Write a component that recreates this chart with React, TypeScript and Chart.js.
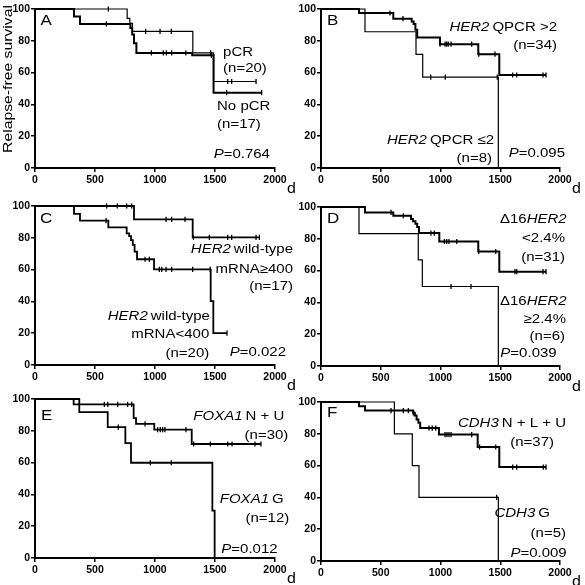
import React, { useEffect, useRef } from 'react';
import { Chart, registerables } from 'chart.js';

Chart.register(...registerables);

// ---------- axes ----------
const X_TICKS = [0, 500, 1000, 1500, 2000];
const Y_TICKS = [0, 20, 40, 60, 80, 100];
const X_UNIT = 'd';
const Y_TITLE = 'Relapse-free survival';

// ---------- Panel A ----------
const A_PCR_T = [0, 768, 790, 812, 1315, 1488, 1842];
const A_PCR_S = [100, 94.1, 91.0, 85.9, 72.4, 54.4, 54.4];
const A_PCR_CENS = [611, 922, 1042, 1136, 1464, 1606, 1639, 1842];
const A_NOPCR_T = [0, 325, 375, 795, 810, 825, 845, 1310, 1488, 1889];
const A_NOPCR_S = [100, 95.3, 90.6, 88.0, 84.0, 78.5, 72.4, 70.9, 47.4, 47.4];
const A_NOPCR_CENS = [595, 970, 1069, 1095, 1139, 1257, 1470, 1597, 1889];

// ---------- Panel B ----------
const B_HI_T = [0, 318, 605, 759, 775, 790, 805, 996, 1316, 1492, 1883];
const B_HI_S = [100, 97.5, 93.9, 92.2, 90.5, 86.9, 82.1, 77.9, 71.6, 58.5, 58.5];
const B_HI_CENS = [577, 686, 996, 1038, 1052, 1065, 1088, 1261, 1320, 1456, 1604, 1638, 1858, 1883];
const B_LO_T = [0, 368, 795, 851, 1484];
const B_LO_S = [100, 85.7, 71.4, 57.1, 0];
const B_LO_CENS = [918, 1040, 1475];

// ---------- Panel C ----------
const C_HI_T = [0, 825, 1314, 1870];
const C_HI_S = [100, 91.6, 80.3, 80.3];
const C_HI_CENS = [597, 686, 764, 806, 1092, 1139, 1250, 1320, 1453, 1606, 1639, 1842, 1870];
const C_LO_T = [0, 325, 375, 611, 764, 785, 800, 815, 830, 850, 992, 1464, 1486, 1600];
const C_LO_S = [100, 95.0, 90.8, 86.6, 82.8, 81.0, 78.6, 75.5, 71.3, 66.5, 60.2, 40.2, 20.1, 20.1];
const C_LO_CENS = [592, 917, 953, 1036, 1056, 1092, 1139, 1314, 1460, 1600];

// ---------- Panel D ----------
const D_LO_T = [0, 368, 605, 753, 770, 790, 805, 820, 990, 1316, 1492, 1883];
const D_LO_S = [100, 96.6, 94.5, 92.5, 91.0, 89.5, 87.4, 83.6, 78.3, 72.0, 59.3, 59.3];
const D_LO_CENS = [586, 689, 920, 948, 1032, 1052, 1071, 1136, 1320, 1462, 1623, 1638, 1858, 1883];
const D_HI_T = [0, 318, 814, 848, 1484];
const D_HI_S = [100, 83.3, 66.7, 50.0, 0];
const D_HI_CENS = [1088, 1255];

// ---------- Panel E ----------
const E_NU_T = [0, 322, 822, 842, 994, 1306, 1883];
const E_NU_S = [100, 96.6, 88.0, 84.3, 80.7, 71.7, 71.7];
const E_NU_CENS = [578, 606, 689, 772, 806, 917, 1022, 1044, 1064, 1083, 1258, 1322, 1461, 1606, 1642, 1833, 1883];
const E_G_T = [0, 369, 606, 753, 800, 1478, 1497];
const E_G_S = [100, 91.7, 82.3, 72.2, 59.9, 29.8, 0];
const E_G_CENS = [694, 961, 1136];

// ---------- Panel F ----------
const F_NLU_T = [0, 318, 368, 772, 785, 800, 815, 830, 987, 1311, 1492, 1883];
const F_NLU_S = [100, 97.3, 94.6, 93.2, 91.5, 89.0, 87.0, 83.6, 79.5, 71.7, 59.1, 59.1];
const F_NLU_CENS = [586, 689, 731, 772, 904, 931, 960, 1038, 1054, 1071, 1088, 1261, 1327, 1462, 1604, 1638, 1860, 1883];
const F_G_T = [0, 614, 764, 820, 1484];
const F_G_S = [100, 80, 60, 40, 0];
const F_G_CENS = [1470];

type Seg = { t: string; i?: boolean; g?: number };
type Note = { segs: Seg[]; x: number; y: number; align: 'left' | 'right'; size?: number };
type Curve = { t: number[]; s: number[]; c: number[]; w: number };
type PanelDef = { id: string; left: number; top: number; width: number; curves: Curve[]; notes: Note[]; yTitle?: boolean };

const GAP = 3;

const NOTES_A: Note[] = [
  { segs: [{ t: 'A' }], x: 45, y: 90, align: 'left', size: 17 },
  { segs: [{ t: 'pCR' }], x: 1567, y: 70.5, align: 'left' },
  { segs: [{ t: '(n=20)' }], x: 1567, y: 60.4, align: 'left' },
  { segs: [{ t: 'No pCR' }], x: 1517, y: 36.4, align: 'left' },
  { segs: [{ t: '(n=17)' }], x: 1517, y: 25.1, align: 'left' },
  { segs: [{ t: 'P', i: true }, { t: '=0.764' }], x: 1958, y: 6.1, align: 'right' },
];
const NOTES_B: Note[] = [
  { segs: [{ t: 'B' }], x: 50, y: 90, align: 'left', size: 17 },
  { segs: [{ t: 'HER2', i: true }, { t: 'QPCR >2', g: GAP }], x: 1975, y: 86.3, align: 'right' },
  { segs: [{ t: '(n=34)' }], x: 1975, y: 74.9, align: 'right' },
  { segs: [{ t: 'HER2', i: true }, { t: 'QPCR ≤2', g: GAP }], x: 1448, y: 15, align: 'right' },
  { segs: [{ t: '(n=8)' }], x: 1431, y: 3.8, align: 'right' },
  { segs: [{ t: 'P', i: true }, { t: '=0.095' }], x: 2042, y: 6.9, align: 'right' },
];
const NOTES_C: Note[] = [
  { segs: [{ t: 'C' }], x: 42, y: 89.3, align: 'left', size: 17 },
  { segs: [{ t: 'HER2', i: true }, { t: 'wild-type', g: GAP }], x: 2150, y: 70.3, align: 'right' },
  { segs: [{ t: 'mRNA≥400' }], x: 2150, y: 58, align: 'right' },
  { segs: [{ t: '(n=17)' }], x: 2150, y: 47.2, align: 'right' },
  { segs: [{ t: 'HER2', i: true }, { t: 'wild-type', g: GAP }], x: 1458, y: 28.3, align: 'right' },
  { segs: [{ t: 'mRNA<400' }], x: 1452, y: 16.8, align: 'right' },
  { segs: [{ t: '(n=20)' }], x: 1452, y: 5.2, align: 'right' },
  { segs: [{ t: 'P', i: true }, { t: '=0.022' }], x: 2092, y: 5.7, align: 'right' },
];
const NOTES_D: Note[] = [
  { segs: [{ t: 'D' }], x: 50, y: 90, align: 'left', size: 17 },
  { segs: [{ t: 'Δ16' }, { t: 'HER2', i: true }], x: 2056, y: 89.9, align: 'right' },
  { segs: [{ t: '<2.4%' }], x: 2042, y: 77.7, align: 'right' },
  { segs: [{ t: '(n=31)' }], x: 2042, y: 66.1, align: 'right' },
  { segs: [{ t: 'Δ16' }, { t: 'HER2', i: true }], x: 2056, y: 38.3, align: 'right' },
  { segs: [{ t: '≥2.4%' }], x: 2050, y: 26.8, align: 'right' },
  { segs: [{ t: '(n=6)' }], x: 2042, y: 16.2, align: 'right' },
  { segs: [{ t: 'P', i: true }, { t: '=0.039' }], x: 1972, y: 5.7, align: 'right' },
];
const NOTES_E: Note[] = [
  { segs: [{ t: 'E' }], x: 50, y: 87, align: 'left', size: 17 },
  { segs: [{ t: 'FOXA1', i: true }, { t: 'N + U', g: GAP }], x: 2077, y: 87, align: 'right' },
  { segs: [{ t: '(n=30)' }], x: 2111, y: 75, align: 'right' },
  { segs: [{ t: 'FOXA1', i: true }, { t: 'G', g: GAP }], x: 2072, y: 34.6, align: 'right' },
  { segs: [{ t: '(n=12)' }], x: 2119, y: 22.6, align: 'right' },
  { segs: [{ t: 'P', i: true }, { t: '=0.012' }], x: 2022, y: 3.1, align: 'right' },
];
const NOTES_F: Note[] = [
  { segs: [{ t: 'F' }], x: 50, y: 90.6, align: 'left', size: 17 },
  { segs: [{ t: 'CDH3', i: true }, { t: 'N + L + U', g: GAP }], x: 2050, y: 84.3, align: 'right' },
  { segs: [{ t: '(n=37)' }], x: 1950, y: 72.3, align: 'right' },
  { segs: [{ t: 'CDH3', i: true }, { t: 'G', g: GAP }], x: 1916, y: 27.7, align: 'right' },
  { segs: [{ t: '(n=5)' }], x: 2050, y: 15.1, align: 'right' },
  { segs: [{ t: 'P', i: true }, { t: '=0.009' }], x: 2056, y: 2.5, align: 'right' },
];

const PANELS: PanelDef[] = [
  { id: 'A', left: 0, top: 0, width: 300, yTitle: true, notes: NOTES_A,
    curves: [{ t: A_PCR_T, s: A_PCR_S, c: A_PCR_CENS, w: 1.2 }, { t: A_NOPCR_T, s: A_NOPCR_S, c: A_NOPCR_CENS, w: 2 }] },
  { id: 'B', left: 286, top: 0, width: 299, notes: NOTES_B,
    curves: [{ t: B_LO_T, s: B_LO_S, c: B_LO_CENS, w: 1.2 }, { t: B_HI_T, s: B_HI_S, c: B_HI_CENS, w: 2 }] },
  { id: 'C', left: 0, top: 197, width: 300, notes: NOTES_C,
    curves: [{ t: C_HI_T, s: C_HI_S, c: C_HI_CENS, w: 1.8 }, { t: C_LO_T, s: C_LO_S, c: C_LO_CENS, w: 1.8 }] },
  { id: 'D', left: 286, top: 198, width: 299, notes: NOTES_D,
    curves: [{ t: D_HI_T, s: D_HI_S, c: D_HI_CENS, w: 1.2 }, { t: D_LO_T, s: D_LO_S, c: D_LO_CENS, w: 2 }] },
  { id: 'E', left: 0, top: 390, width: 300, notes: NOTES_E,
    curves: [{ t: E_NU_T, s: E_NU_S, c: E_NU_CENS, w: 1.8 }, { t: E_G_T, s: E_G_S, c: E_G_CENS, w: 1.8 }] },
  { id: 'F', left: 286, top: 393, width: 299, notes: NOTES_F,
    curves: [{ t: F_G_T, s: F_G_S, c: F_G_CENS, w: 1.2 }, { t: F_NLU_T, s: F_NLU_S, c: F_NLU_CENS, w: 2 }] },
];

const CANVAS_H = 195;
const FONT = '"Liberation Sans", Arial, sans-serif';
const SY = 0.87;

function survAt(t: number[], s: number[], x: number): number {
  let v = s[0];
  for (let i = 0; i < t.length; i++) if (t[i] <= x) v = s[i];
  return v;
}

function drawSegs(ctx: CanvasRenderingContext2D, segs: Seg[], x: number, y: number, align: 'left' | 'right', size: number) {
  ctx.save();
  ctx.translate(x, y);
  ctx.scale(1, SY);
  ctx.textBaseline = 'alphabetic';
  ctx.textAlign = 'left';
  ctx.fillStyle = '#000';
  const fonts = segs.map((s) => `${s.i ? 'italic ' : ''}${size}px ${FONT}`);
  const ws = segs.map((s, k) => { ctx.font = fonts[k]; return ctx.measureText(s.t).width + (s.g || 0); });
  const total = ws.reduce((a, b) => a + b, 0);
  let cx = align === 'right' ? -total : 0;
  segs.forEach((s, k) => { ctx.font = fonts[k]; ctx.fillText(s.t, cx + (s.g || 0), 0); cx += ws[k]; });
  ctx.restore();
}

function notesPlugin(p: PanelDef) {
  return {
    id: 'kmNotes' + p.id,
    afterDraw(chart: any) {
      const ctx: CanvasRenderingContext2D = chart.ctx;
      const xs = chart.scales.x;
      const ys = chart.scales.y;
      p.notes.forEach((n) => {
        drawSegs(ctx, n.segs, xs.getPixelForValue(n.x), ys.getPixelForValue(n.y), n.align, n.size || 15);
      });
      // unit "d" after last x tick label
      const lastX = X_TICKS[X_TICKS.length - 1];
      drawSegs(ctx, [{ t: X_UNIT }], xs.getPixelForValue(lastX) + 12, chart.chartArea.bottom + 25, 'left', 16);
      if (p.yTitle) {
        ctx.save();
        ctx.translate(chart.chartArea.left - 23, ys.getPixelForValue(56));
        ctx.rotate(-Math.PI / 2);
        ctx.scale(1.05, SY);
        ctx.font = `15px ${FONT}`;
        ctx.textAlign = 'center';
        ctx.textBaseline = 'alphabetic';
        ctx.fillStyle = '#000';
        ctx.fillText(Y_TITLE, 0, 0);
        ctx.restore();
      }
    },
  };
}

function buildConfig(p: PanelDef): any {
  const datasets: any[] = [];
  p.curves.forEach((c) => {
    datasets.push({
      data: c.t.map((t, i) => ({ x: t, y: c.s[i] })),
      stepped: 'before',
      borderColor: '#000',
      borderWidth: c.w,
      pointRadius: 0,
      fill: false,
      clip: false,
    });
    datasets.push({
      data: c.c.map((t) => ({ x: t, y: survAt(c.t, c.s, t) })),
      showLine: false,
      pointStyle: 'line',
      pointRotation: 90,
      pointRadius: 2.6,
      pointBorderWidth: 1.3,
      pointBorderColor: '#000',
      borderColor: '#000',
      clip: false,
    });
  });
  const axisCommon = {
    type: 'linear',
    grid: { display: true, drawOnChartArea: false, drawTicks: true, tickLength: 4, color: '#000', lineWidth: 1.5 },
    border: { display: true, color: '#000', width: 2 },
  };
  const tickFont = { family: FONT, size: 10.5, weight: 'bold' };
  return {
    type: 'line',
    data: { datasets },
    options: {
      responsive: false,
      animation: false,
      events: [],
      layout: { padding: { top: 9, right: 25, left: 0, bottom: 0 } },
      plugins: { legend: { display: false }, tooltip: { enabled: false }, title: { display: false } },
      scales: {
        x: {
          ...axisCommon,
          min: 0,
          max: 2000,
          afterBuildTicks: (s: any) => { s.ticks = X_TICKS.map((v) => ({ value: v })); },
          afterFit: (s: any) => { s.height = 27; },
          ticks: { color: '#000', font: tickFont, padding: 2, maxRotation: 0, autoSkip: false, callback: (v: any) => String(v) },
        },
        y: {
          ...axisCommon,
          min: 0,
          max: 100,
          afterBuildTicks: (s: any) => { s.ticks = Y_TICKS.map((v) => ({ value: v })); },
          afterFit: (s: any) => { s.width = 35; },
          ticks: { color: '#000', font: tickFont, padding: 1, autoSkip: false, callback: (v: any) => String(v) },
        },
      },
    },
    plugins: [notesPlugin(p)],
  };
}

function Panel({ p }: { p: PanelDef }) {
  const ref = useRef<HTMLCanvasElement>(null);
  useEffect(() => {
    const chart = new Chart(ref.current as HTMLCanvasElement, buildConfig(p));
    return () => chart.destroy();
  }, [p]);
  return (
    <canvas
      ref={ref}
      width={p.width}
      height={CANVAS_H}
      style={{ position: 'absolute', left: p.left, top: p.top, width: p.width, height: CANVAS_H }}
    />
  );
}

export default function App() {
  return (
    <div style={{ position: 'absolute', left: 0, top: 0, width: 585, height: 585, overflow: 'hidden', background: '#fff' }}>
      {PANELS.map((p) => (
        <Panel key={p.id} p={p} />
      ))}
    </div>
  );
}
